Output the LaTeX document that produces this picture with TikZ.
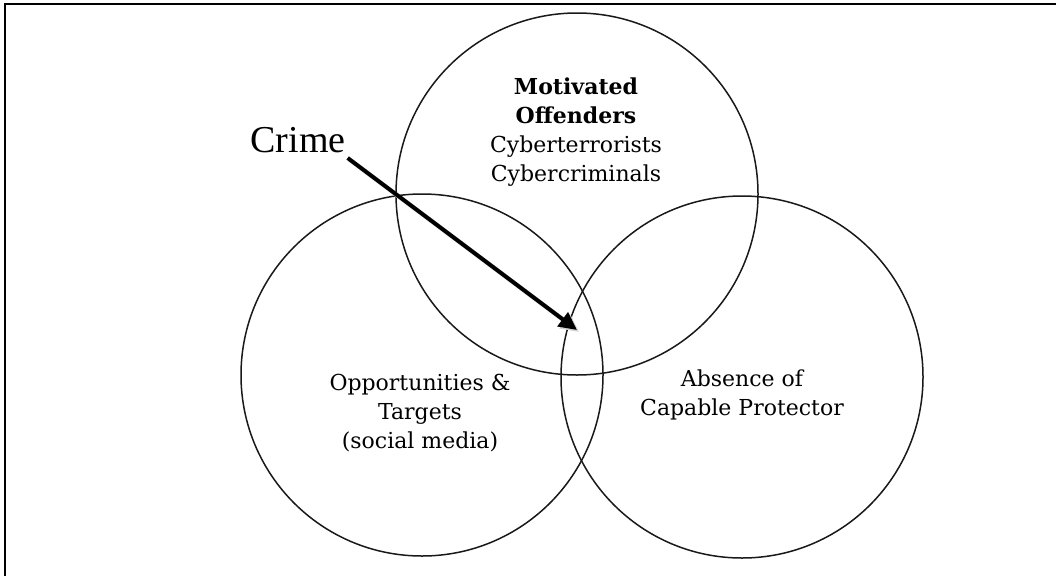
\documentclass[tikz,border=0pt]{standalone}
\usepackage{fontspec}
\setmainfont{DejaVu Serif}
\newfontfamily\crimefont{Liberation Serif}
\usetikzlibrary{arrows.meta}

\begin{document}
\begin{tikzpicture}[x=1pt, y=-1pt,
    venn/.style={circle, draw=black!90, line width=1.5pt, minimum size=362pt, inner sep=0pt},
    venntext/.style={align=center, inner sep=0pt, font=\fontsize{22}{29}\selectfont}]
  \useasboundingbox (0,0) rectangle (1056,576);
  \draw [line width=2.5pt] (1056,4) -- (5,4) -- (5,576); % frame
  \node[venn] (offenders) at (577,194) {};
  \node[venn] (targets)   at (422,375) {};
  \node[venn] (protector) at (742,377) {};
  \node[venntext] (offtext) at (576,132) {\textbf{Motivated}\\\textbf{Offenders}\\Cyberterrorists\\Cybercriminals};
  \node[venntext] (tartext) at (420,413) {Opportunities \&\\Targets\\(social media)};
  \node[venntext] (protext) at (742,395) {Absence of\\Capable Protector};
  \node[inner sep=0pt, font=\crimefont\fontsize{38}{38}\selectfont] (crime) at (298,140) {Crime};
  \coordinate (centre) at (577,330);
  \draw [black!18, line width=4pt, -{Triangle[length=18pt,width=17pt]}] ([shift={(4,7)}]crime.south east) -- ([shift={(2,2)}]centre); % shadow
  \draw [black, line width=4pt, -{Triangle[length=18pt,width=17pt]}] ([shift={(2,5)}]crime.south east) -- (centre);
\end{tikzpicture}
\end{document}
